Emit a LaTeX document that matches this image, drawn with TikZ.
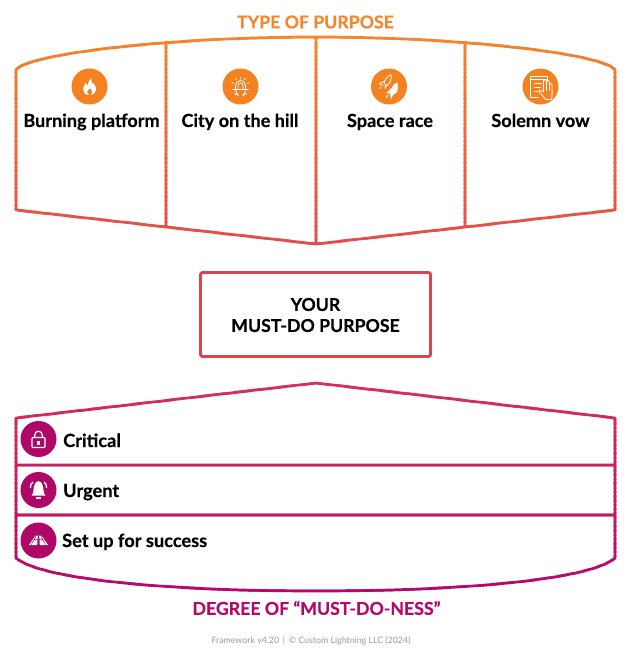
\documentclass[tikz,border=0pt]{standalone}
\usepackage{fontspec}
\setmainfont{Lato}[BoldFeatures={FakeBold=0.4}]
\definecolor{purposetop}{HTML}{F7852B}
\definecolor{purposebot}{HTML}{E4494A}
\definecolor{degreetop}{HTML}{D6315A}
\definecolor{degreebot}{HTML}{B3086C}
\definecolor{boxred}{HTML}{DE4150}
\definecolor{iconorange}{HTML}{F58220}
\definecolor{iconmagenta}{HTML}{AE0768}
\definecolor{footgray}{HTML}{9A9A9A}
% stroke that changes colour from top to bottom
\newcommand{\gradstroke}[5]{
  \foreach \i in {0,...,49} {
    \pgfmathsetmacro{\mixpct}{100-\i*2}
    \pgfmathsetmacro{\stripa}{#2+\i*(#3-#2)/50}
    \pgfmathsetmacro{\stripb}{\stripa+(#3-#2)/50+1.5}
    \begin{scope}
      \clip (0,\stripa) rectangle (630,\stripb);
      \draw[outline, draw={#4!\mixpct!#5}] #1;
    \end{scope}
  }
}
\begin{document}
\begin{tikzpicture}[x=1pt,y=-1pt]

\tikzset{outline/.style = {line width=2.7pt, line join=round}}
\tikzset{cardlabel/.style = {font=\fontsize{18.1}{22}\selectfont\bfseries, black, anchor=base}}
\tikzset{rowlabel/.style = {font=\fontsize{18.2}{22}\selectfont\bfseries, black, anchor=base west, inner sep=0pt}}
\tikzset{titlelabel/.style = {font=\fontsize{17.7}{22}\selectfont\bfseries}}
\tikzset{icon/.style = {shape=circle, minimum size=36pt, inner sep=0pt}}
\tikzset{whiteline/.style = {draw=white, line width=0.8pt, line cap=round, line join=round}}
\useasboundingbox (0,0) rectangle (630,660);

% top shape
\coordinate (tl) at (16,70);
\coordinate (tr) at (615,70);
\coordinate (tm) at (316,37);
\coordinate (bl) at (16,210);
\coordinate (br) at (615,210);
\coordinate (bm) at (316,244);
\coordinate (ta) at (166,41);
\coordinate (tb) at (465,41);
\coordinate (ba) at (166,227);
\coordinate (bb) at (465,227);
\gradstroke{(tl) .. controls (26,54) and (170,37) .. (tm) .. controls (462,37) and (605,54) .. (tr) -- (br) -- (bm) -- (bl) -- cycle (ta) -- (ba) (tm) -- (bm) (tb) -- (bb)}{34}{247}{purposetop}{purposebot}

% bottom shape
\coordinate (dl) at (16,418);
\coordinate (dr) at (615,418);
\coordinate (dt) at (316,383);
\coordinate (el) at (16,558);
\coordinate (er) at (615,558);
\coordinate (eb) at (316,591);
\coordinate (ra) at (16,465);
\coordinate (rb) at (615,465);
\coordinate (sa) at (16,515);
\coordinate (sb) at (615,515);
\gradstroke{(dl) -- (dt) -- (dr) -- (er) .. controls (590,580) and (460,591) .. (eb) .. controls (172,591) and (42,580) .. (el) -- cycle (ra) -- (rb) (sa) -- (sb)}{380}{594}{degreetop}{degreebot}

% titles and middle box
\node[titlelabel, purposetop] (typetitle) at (315.5,22) {TYPE OF PURPOSE};
\node[titlelabel, degreebot] (degreetitle) at (316.5,608) {DEGREE OF “MUST-DO-NESS”};
\node[draw=boxred, line width=2.8pt, rounded corners=2pt, minimum width=230pt, minimum height=84pt, align=center, font=\fontsize{17.7}{21}\selectfont\bfseries] (yourbox) at (315.5,314.5) {\rule{0pt}{14pt}YOUR\\MUST-DO PURPOSE};
\node[font=\fontsize{8.8}{11}\selectfont, footgray] (footer) at (311,641) {Framework v4.20 \,|\, © Custom Lightning LLC (2024)};

% cards
\node[cardlabel] (burning) at (91.5,127) {Burning platform};
\node[cardlabel] (city) at (240,127) {City on the hill};
\node[cardlabel] (space) at (390,127) {Space race};
\node[cardlabel] (vow) at (540.5,127) {Solemn vow};
\node[icon, fill=iconorange] (fire) at (89.5,86.5) {};
\node[icon, fill=iconorange] (lamp) at (240.5,86.5) {};
\node[icon, fill=iconorange] (rocket) at (389,86.5) {};
\node[icon, fill=iconorange] (oath) at (540.5,86.5) {};

% rows
\node[rowlabel] (critical) at (63,447) {Critical};
\node[rowlabel] (urgent) at (63,497) {Urgent};
\node[rowlabel] (success) at (62,547) {Set up for success};
\node[icon, fill=iconmagenta] (lock) at (38.5,439) {};
\node[icon, fill=iconmagenta] (bell) at (38.5,490) {};
\node[icon, fill=iconmagenta] (road) at (38.5,540.5) {};

% flame
\begin{scope}[shift={(fire.center)}]
\fill[white, even odd rule] (-0.5,8.5) .. controls (-4,8.5) and (-6.5,6) .. (-6.5,3) .. controls (-6.5,0) and (-4.5,-1.5) .. (-4,-3.5) .. controls (-3,-3) and (-2.5,-2) .. (-2,-0.5) .. controls (-1,-3) and (-1,-6.5) .. (1.5,-8.5) .. controls (1.5,-5) and (3,-3.5) .. (3.5,-2.5) .. controls (3.8,-2) and (4,-2.5) .. (4.2,-3) .. controls (6,-1) and (6.8,1) .. (6.5,3.5) .. controls (6,6.5) and (4,8.5) .. (1,8.5) .. controls (2.5,7.5) and (3.2,6) .. (2.5,4.5) .. controls (2,3.5) and (1,3) .. (0.5,1.5) .. controls (-1,3) and (-2.8,4.5) .. (-2.5,6) .. controls (-2.3,7.2) and (-1.5,8) .. (-0.5,8.5);
\end{scope}

% lamp
\begin{scope}[shift={(lamp.center)}]
\draw[whiteline] (-5,4) -- (-5,-1) arc (180:360:5) -- (5,4);
\draw[whiteline] (-2.5,3) -- (-2.5,-1) arc (180:360:2.5) -- (2.5,3);
\draw[whiteline] (-8,3) -- (8,3) (-5,4) -- (-3,8) (5,4) -- (3,8) (-6,7) -- (-2,9) (6,7) -- (2,9);
\draw[whiteline] (0,-9) -- (0,-7.5) (-5,-8) -- (-4,-6.8) (5,-8) -- (4,-6.8) (-8.5,-4) -- (-7,-3.2) (8.5,-4) -- (7,-3.2);
\end{scope}

% rockets
\begin{scope}[shift={(rocket.center)}]
\draw[whiteline] (2,-12) .. controls (-1,-10) and (-5,-7) .. (-5,-3) -- (-2,-1) .. controls (1,-3) and (3,-8) .. (2,-12);
\draw[whiteline] (-4.5,-5) -- (-10,-3) -- (-6,-1) (-2.5,-1) -- (-4,2) -- (-3.5,-1.5) (-8,1) -- (-10,2);
\fill[white] (8,-4) .. controls (5,-3) and (2,1) .. (2,5) -- (7,7) .. controls (9,4) and (10,0) .. (8,-4);
\fill[white] (2.5,1.5) -- (-3,7) -- (1,7) -- (1.5,11) -- (6.5,6.5) -- cycle;
\draw[whiteline] (-1,9) -- (-3,11) (3,10) -- (2,12);
\end{scope}

% document and hand
\begin{scope}[shift={(oath.center)}]
\draw[whiteline] (-10,-10) -- (7,-10) -- (7,-7) (-10,-10) -- (-10,11) -- (0,11);
\draw[whiteline] (-10,-7) -- (7,-7) (-6,-3) -- (1,-3) (-6,1) -- (0,1) (-6,5) -- (-2,5);
\fill[iconorange] (2,-6) rectangle (12,12) (-2,4) rectangle (8,12);
\draw[whiteline] (-1,6) -- (2,9) -- (5,13) -- (11,13) .. controls (12,9) and (11.5,4) .. (11.5,-2) -- (10,-3) -- (9,-2) -- (9,-4) -- (7,-7) -- (6,-4) -- (5,-7) -- (3,-6) -- (3,5) -- (1,4.5) -- (-1,3.5) -- cycle;
\draw[whiteline] (9,-2) -- (9,4) (6,-4) -- (6,4);
\end{scope}

% lock
\begin{scope}[shift={(lock.center)}]
\draw[white, line width=1.2pt, rounded corners=1pt] (-6.5,-1.5) rectangle (6.5,8.5);
\draw[white, line width=1.2pt] (-3.8,-1.5) -- (-3.8,-4) arc (180:360:3.8) -- (3.8,-1.5);
\fill[white] (-1.1,1.5) rectangle (1.1,5.5);
\end{scope}

% bell
\begin{scope}[shift={(bell.center)}]
\fill[white] (-7,5.5) -- (7,5.5) .. controls (4.5,3.5) and (5.5,0) .. (4.5,-3.5) .. controls (3.5,-7) and (2,-9) .. (0,-9) .. controls (-2,-9) and (-3.5,-7) .. (-4.5,-3.5) .. controls (-5.5,0) and (-4.5,3.5) .. (-7,5.5) -- cycle;
\fill[white] (-2.5,7) rectangle (2.5,8.5);
\draw[white, line width=1.3pt] (-5.5,-8) .. controls (-7.5,-6.5) and (-8.5,-4.5) .. (-8,-2) (5.5,-8) .. controls (7.5,-6.5) and (8.5,-4.5) .. (8,-2);
\end{scope}

% road
\begin{scope}[shift={(road.center)}]
\fill[white] (-2,-5) -- (-0.6,-5) -- (-0.9,-1.5) -- (-3.4,-1.5) -- cycle (-3.7,-0.7) -- (-1,-0.7) -- (-1.3,4.5) -- (-7.2,4.5) -- cycle;
\fill[white] (2,-5) -- (0.6,-5) -- (0.9,-1.5) -- (3.4,-1.5) -- cycle (3.7,-0.7) -- (1,-0.7) -- (1.3,4.5) -- (7.2,4.5) -- cycle;
\fill[white] (-7.8,4.5) -- (-9.5,4.5) -- (-3,-5) -- (-2.6,-5) -- cycle;
\fill[white] (7.8,4.5) -- (9.5,4.5) -- (3,-5) -- (2.6,-5) -- cycle;
\end{scope}
\end{tikzpicture}
\end{document}
